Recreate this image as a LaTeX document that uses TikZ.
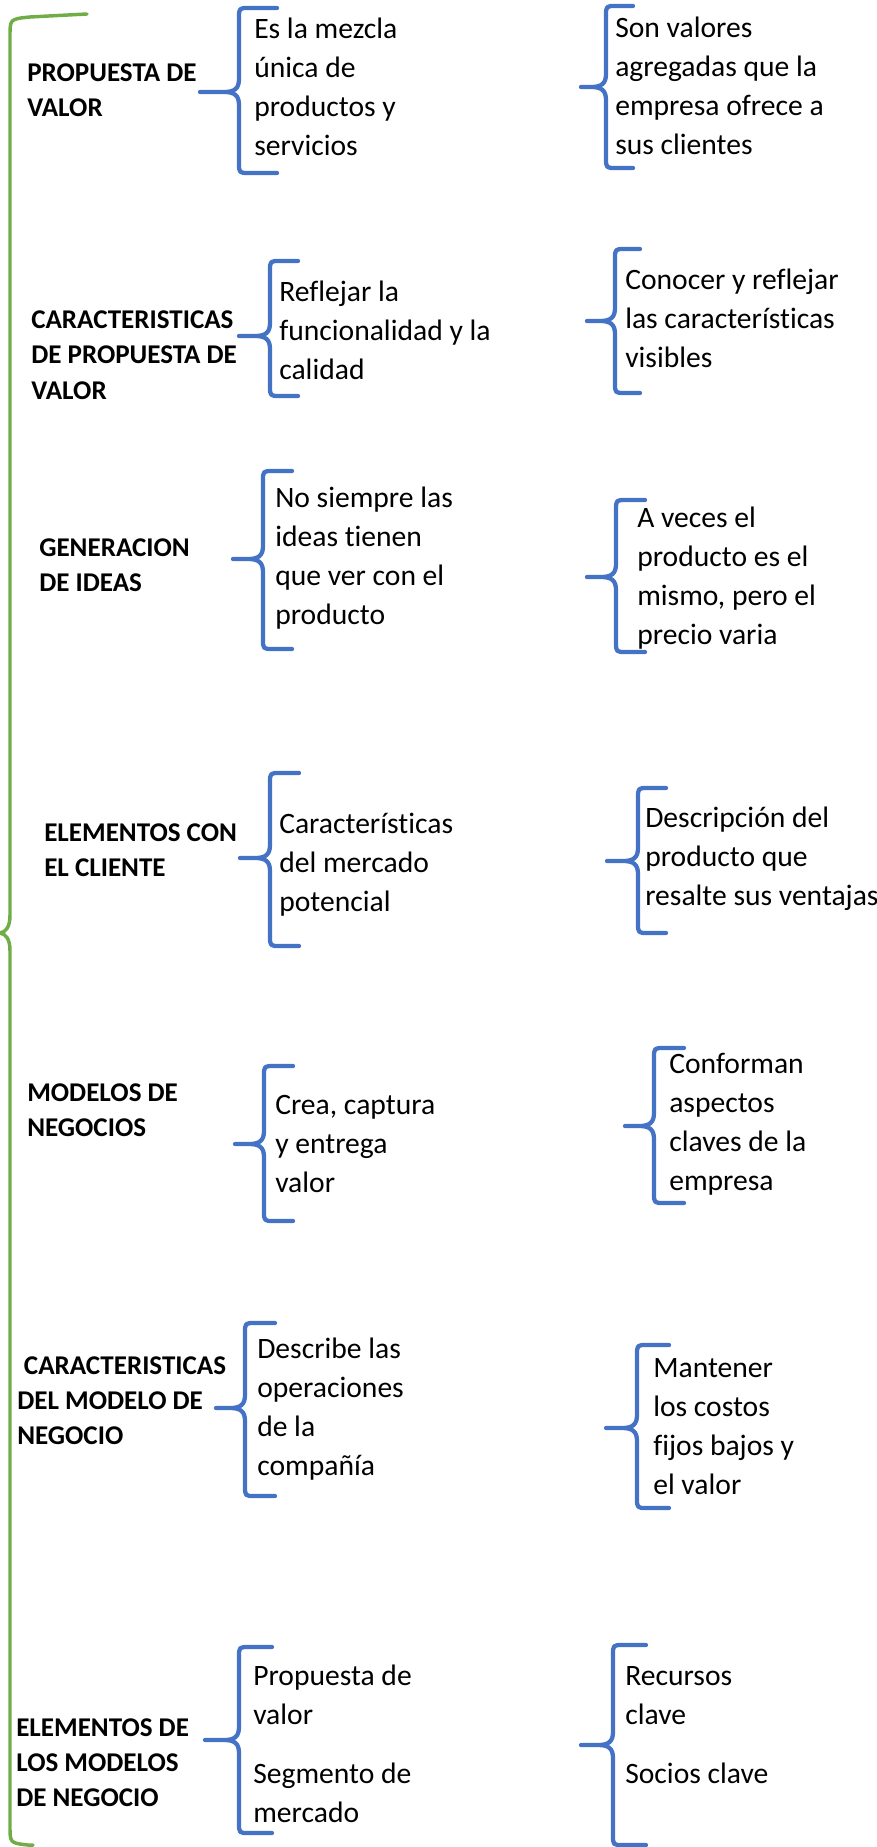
\documentclass[tikz,border=0pt]{standalone}
\usepackage{fontspec}
\setmainfont{Carlito}[Ligatures=NoCommon]
\definecolor{braceblue}{HTML}{4472C4}
\definecolor{bracegreen}{HTML}{70AD47}
\tikzset{
  bodytext/.style={anchor=base west, inner sep=0pt, align=left, font=\fontsize{22.2}{29.25}\selectfont},
  labeltext/.style={anchor=base west, inner sep=0pt, align=left, font=\bfseries\fontsize{20.3}{26.25}\selectfont},
  bluebrace/.style={draw=braceblue, line width=3.2pt, line cap=round, line join=round},
  greenbrace/.style={draw=bracegreen, line width=2.6pt, line cap=round, line join=round},
}
% #1 tip x, #2 mid y, #3 vertical x, #4 top y, #5 bottom y, #6 right end x
\newcommand{\DrawBrace}[6]{%
  \draw[bluebrace] (#6,#4) -- ({#3+10},#4) .. controls (#3,#4) .. (#3,{#4+10})
    -- (#3,{#2-13}) .. controls (#3,{#2-3}) and ({#3-5},#2) .. ({#3-15},#2) -- (#1,#2)
    -- ({#3-15},#2) .. controls ({#3-5},#2) and (#3,{#2+3}) .. (#3,{#2+13})
    -- (#3,{#5-10}) .. controls (#3,#5) .. ({#3+10},#5) -- (#6,#5);
}
\begin{document}
\begin{tikzpicture}[x=0.75pt,y=-0.75pt]
\useasboundingbox (0,0) rectangle (877,1847);

% big green brace
\draw[greenbrace] (87,14) -- (30,17) .. controls (10,19) .. (10,36)
  -- (10,915) .. controls (10,927) and (6,932) .. (0,933)
  -- (0,933) .. controls (6,934) and (10,939) .. (10,951)
  -- (10,1826) .. controls (10,1843) .. (28,1845) -- (33,1845);

% node positions are the baselines of the LAST line of each text

% row 1
\node[labeltext] (l1) at (27,117) {PROPUESTA DE\\VALOR};
\DrawBrace{200}{92}{239}{8}{173}{277}
\node[bodytext] (a1) at (254,156) {Es la mezcla\\única de\\productos y\\servicios};
\DrawBrace{581}{87}{606}{6}{168}{633}
\node[bodytext] (b1) at (615,155) {Son valores\\agregadas que la\\empresa ofrece a\\sus clientes};

% row 2
\node[labeltext] (l2) at (31,399) {CARACTERISTICAS\\DE PROPUESTA DE\\VALOR};
\DrawBrace{239}{336}{270}{261}{396}{298}
\node[bodytext] (a2) at (279,380) {Reflejar la\\funcionalidad y la\\calidad};
\DrawBrace{587}{321}{615}{249}{393}{640}
\node[bodytext] (b2) at (625,368) {Conocer y reflejar\\las características\\visibles};

% row 3
\node[labeltext] (l3) at (39,591) {GENERACION\\DE IDEAS};
\DrawBrace{233}{559}{263}{471}{649}{292}
\node[bodytext] (a3) at (275,624) {No siempre las\\ideas tienen\\que ver con el\\producto};
\DrawBrace{587}{577}{616}{500}{652}{645}
\node[bodytext] (b3) at (637,644) {A veces el\\producto es el\\mismo, pero el\\precio varia};

% row 4
\node[labeltext] (l4) at (44,876) {ELEMENTOS CON\\EL CLIENTE};
\DrawBrace{240}{858}{270}{773}{946}{299}
\node[bodytext] (a4) at (279,911) {Características\\del mercado\\potencial};
\DrawBrace{607}{861}{638}{788}{933}{666}
\node[bodytext] (b4) at (645,905) {Descripción del\\producto que\\resalte sus ventajas};

% row 5
\node[labeltext] (l5) at (27,1136) {MODELOS DE\\NEGOCIOS};
\DrawBrace{235}{1144}{264}{1066}{1221}{293}
\node[bodytext] (a5) at (275,1192) {Crea, captura\\y entrega\\valor};
\DrawBrace{625}{1126}{654}{1048}{1203}{684}
\node[bodytext] (b5) at (669,1190) {Conforman\\aspectos\\claves de la\\empresa};

% row 6
\node[labeltext] (l6) at (17,1444) {\hspace*{5pt}CARACTERISTICAS\\DEL MODELO DE\\NEGOCIO};
\DrawBrace{216}{1408}{245}{1323}{1496}{275}
\node[bodytext] (a6) at (257,1475) {Describe las\\operaciones\\de la\\compañía};
\DrawBrace{606}{1428}{637}{1345}{1508}{669}
\node[bodytext] (b6) at (653,1494) {Mantener\\los costos\\fijos bajos y\\el valor};

% row 7
\node[labeltext] (l7) at (16,1806) {ELEMENTOS DE\\LOS MODELOS\\DE NEGOCIO};
\DrawBrace{205}{1740}{239}{1647}{1833}{272}
\node[bodytext] (a7) at (253,1724) {Propuesta de\\valor};
\node[bodytext] (c7) at (253,1822) {Segmento de\\mercado};
\DrawBrace{581}{1745}{613}{1645}{1845}{646}
\node[bodytext] (b7) at (625,1724) {Recursos\\clave};
\node[bodytext] (d7) at (625,1783) {Socios clave};

\end{tikzpicture}
\end{document}
